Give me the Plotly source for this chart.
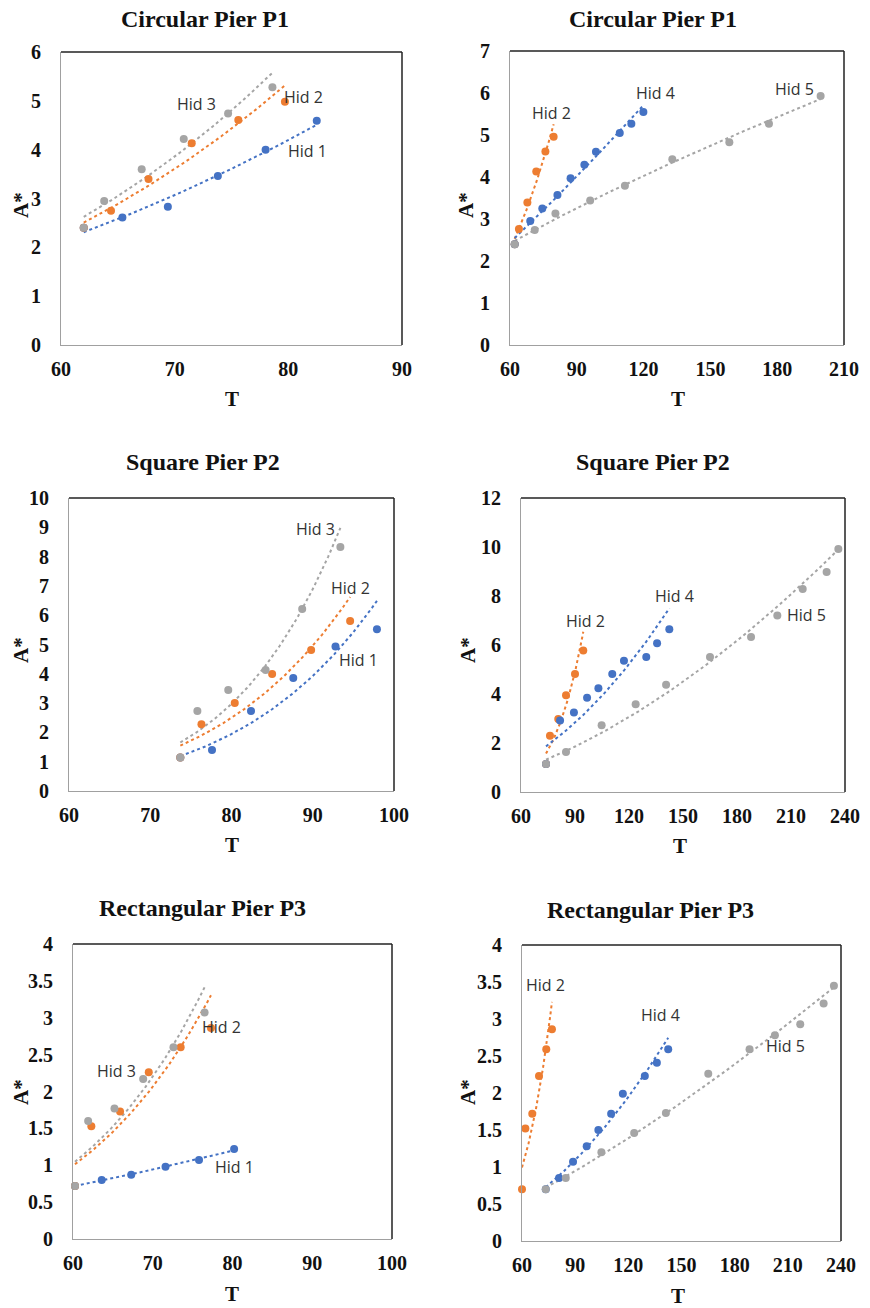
import numpy as np
import plotly.graph_objects as go

# page body has an 8px margin, so figure is 8px smaller and positions are offset
OFF = 8
W, H = 870 - OFF, 1308 - OFF

# ---------------- data ----------------
titles = ["Circular Pier P1", "Circular Pier P1", "Square Pier P2",
          "Square Pier P2", "Rectangular Pier P3", "Rectangular Pier P3"]

# Panel 1
p1_t_hid1 = [62.0, 65.4, 69.4, 73.8, 78.0, 82.5]
p1_a_hid1 = [2.40, 2.61, 2.83, 3.46, 4.00, 4.59]
p1_t_hid2 = [62.0, 64.4, 67.7, 71.5, 75.6, 79.7]
p1_a_hid2 = [2.40, 2.75, 3.40, 4.13, 4.61, 4.98]
p1_t_hid3 = [62.0, 63.8, 67.1, 70.8, 74.7, 78.6]
p1_a_hid3 = [2.40, 2.95, 3.60, 4.22, 4.74, 5.28]

# Panel 2
p2_t_hid2 = [62.1, 64.0, 67.8, 71.8, 75.9, 79.6]
p2_a_hid2 = [2.40, 2.76, 3.39, 4.13, 4.61, 4.96]
p2_t_hid4 = [62.1, 69.1, 74.5, 81.3, 87.2, 93.4, 98.6, 109.3, 114.5, 119.9]
p2_a_hid4 = [2.40, 2.95, 3.25, 3.57, 3.97, 4.29, 4.60, 5.05, 5.27, 5.55]
p2_t_hid5 = [62.1, 71.1, 80.4, 96.0, 111.6, 132.9, 158.5, 176.3, 199.5]
p2_a_hid5 = [2.40, 2.74, 3.13, 3.44, 3.79, 4.42, 4.83, 5.27, 5.93]

# Panel 3
p3_t_hid1 = [73.7, 77.6, 82.4, 87.6, 92.8, 97.9]
p3_a_hid1 = [1.14, 1.40, 2.73, 3.86, 4.93, 5.52]
p3_t_hid2 = [73.7, 76.3, 80.4, 85.0, 89.8, 94.6]
p3_a_hid2 = [1.14, 2.28, 3.00, 3.99, 4.81, 5.80]
p3_t_hid3 = [73.7, 75.8, 79.6, 84.2, 88.7, 93.4]
p3_a_hid3 = [1.14, 2.73, 3.45, 4.13, 6.21, 8.33]

# Panel 4
p4_t_hid2 = [73.9, 76.1, 80.7, 85.0, 90.0, 94.6]
p4_a_hid2 = [1.14, 2.30, 2.98, 3.95, 4.82, 5.78]
p4_t_hid4 = [73.9, 81.7, 89.4, 96.7, 103.0, 110.7, 117.2, 129.6, 135.6, 142.4]
p4_a_hid4 = [1.14, 2.92, 3.25, 3.85, 4.23, 4.82, 5.36, 5.51, 6.07, 6.64]
p4_t_hid5 = [73.9, 85.0, 104.8, 123.7, 140.6, 165.0, 187.8, 202.4, 216.5, 229.8, 236.3]
p4_a_hid5 = [1.14, 1.63, 2.72, 3.58, 4.38, 5.51, 6.33, 7.20, 8.29, 8.98, 9.92]

# Panel 5
p5_t_hid1 = [60.25, 63.6, 67.3, 71.6, 75.8, 80.2]
p5_a_hid1 = [0.72, 0.80, 0.87, 0.98, 1.07, 1.22]
p5_t_hid2 = [60.25, 62.3, 65.9, 69.5, 73.5, 77.3]
p5_a_hid2 = [0.72, 1.53, 1.73, 2.26, 2.60, 2.86]
p5_t_hid3 = [60.25, 61.9, 65.2, 68.8, 72.6, 76.5]
p5_a_hid3 = [0.72, 1.60, 1.77, 2.17, 2.60, 3.07]

# Panel 6
p6_t_hid2 = [60.0, 61.9, 65.8, 69.6, 73.7, 76.9]
p6_a_hid2 = [0.70, 1.52, 1.72, 2.23, 2.59, 2.86]
p6_t_hid4 = [73.4, 80.9, 88.8, 96.5, 103.1, 110.3, 116.9, 129.3, 136.1, 142.5]
p6_a_hid4 = [0.70, 0.85, 1.07, 1.28, 1.50, 1.72, 1.99, 2.23, 2.41, 2.59]
p6_t_hid5 = [73.4, 84.7, 104.8, 123.3, 141.2, 165.1, 188.4, 202.7, 217.0, 230.2, 236.0]
p6_a_hid5 = [0.70, 0.85, 1.20, 1.46, 1.73, 2.26, 2.59, 2.78, 2.93, 3.21, 3.45]

# axis ticks
x_ticks_a = [60, 70, 80, 90]
x_ticks_b = [60, 90, 120, 150, 180, 210]
x_ticks_c = [60, 70, 80, 90, 100]
x_ticks_d = [60, 90, 120, 150, 180, 210, 240]
y_ticks_1 = [0, 1, 2, 3, 4, 5, 6]
y_ticks_2 = [0, 1, 2, 3, 4, 5, 6, 7]
y_ticks_3 = [0, 1, 2, 3, 4, 5, 6, 7, 8, 9, 10]
y_ticks_4 = [0, 2, 4, 6, 8, 10, 12]
y_ticks_5 = [0, 0.5, 1, 1.5, 2, 2.5, 3, 3.5, 4]

BLUE, ORANGE, GREY = "#4472C4", "#ED7D31", "#A5A5A5"

# plot-area pixel boxes in the page: (left, right, top, bottom)
boxes = [(61, 402, 52, 345), (510, 844, 51, 345),
         (69, 394, 498, 791), (521, 845, 498, 792),
         (73, 392, 944, 1239), (522, 841, 945, 1241)]

panels = [
    dict(xr=[60, 90], yr=[0, 6], xt=x_ticks_a, yt=y_ticks_1,
         series=[(p1_t_hid1, p1_a_hid1, BLUE), (p1_t_hid2, p1_a_hid2, ORANGE), (p1_t_hid3, p1_a_hid3, GREY)],
         labels=[("Hid 3", 71.9, 4.93), ("Hid 2", 81.3, 5.08), ("Hid 1", 81.7, 3.98)]),
    dict(xr=[60, 210], yr=[0, 7], xt=x_ticks_b, yt=y_ticks_2,
         series=[(p2_t_hid2, p2_a_hid2, ORANGE), (p2_t_hid4, p2_a_hid4, BLUE), (p2_t_hid5, p2_a_hid5, GREY)],
         labels=[("Hid 2", 78.6, 5.53), ("Hid 4", 125.3, 5.99), ("Hid 5", 187.9, 6.1)]),
    dict(xr=[60, 100], yr=[0, 10], xt=x_ticks_c, yt=y_ticks_3,
         series=[(p3_t_hid1, p3_a_hid1, BLUE), (p3_t_hid2, p3_a_hid2, ORANGE), (p3_t_hid3, p3_a_hid3, GREY)],
         labels=[("Hid 3", 90.3, 8.95), ("Hid 2", 94.6, 6.92), ("Hid 1", 95.6, 4.47)]),
    dict(xr=[60, 240], yr=[0, 12], xt=x_ticks_d, yt=y_ticks_4,
         series=[(p4_t_hid2, p4_a_hid2, ORANGE), (p4_t_hid4, p4_a_hid4, BLUE), (p4_t_hid5, p4_a_hid5, GREY)],
         labels=[("Hid 2", 96.0, 7.0), ("Hid 4", 145.0, 8.0), ("Hid 5", 218.7, 7.24)]),
    dict(xr=[60, 100], yr=[0, 4], xt=x_ticks_c, yt=y_ticks_5,
         series=[(p5_t_hid1, p5_a_hid1, BLUE), (p5_t_hid2, p5_a_hid2, ORANGE), (p5_t_hid3, p5_a_hid3, GREY)],
         labels=[("Hid 3", 65.4, 2.28), ("Hid 2", 78.6, 2.87), ("Hid 1", 80.2, 0.98)]),
    dict(xr=[60, 240], yr=[0, 4], xt=x_ticks_d, yt=y_ticks_5,
         series=[(p6_t_hid2, p6_a_hid2, ORANGE), (p6_t_hid4, p6_a_hid4, BLUE), (p6_t_hid5, p6_a_hid5, GREY)],
         labels=[("Hid 2", 73.2, 3.46), ("Hid 4", 138.3, 3.05), ("Hid 5", 208.4, 2.64)]),
]

title_pos = [(205, 19), (653, 19), (203, 462), (653, 462), (202, 908), (650, 910)]
xt_pos = [(232, 399), (678, 399), (232, 845), (680, 846), (232, 1294), (678, 1296)]
yt_pos = [(21, 205), (466, 205), (21, 650), (468, 650), (21, 1092), (468, 1092)]

TNR = "Liberation Serif"
LBL = "Open Sans"


def px(x):
    return (x - OFF) / W


def py(y):
    return 1 - (y - OFF) / H


def power_fit(t, a):
    b, ln_c = np.polyfit(np.log(t), np.log(a), 1)
    xs = np.linspace(min(t), max(t), 80)
    return xs, np.exp(ln_c) * xs ** b


fig = go.Figure()
annotations = []
shapes = []
tickfont = dict(family=TNR, size=20, color="#111", weight="bold")

for i, (p, box) in enumerate(zip(panels, boxes)):
    n = i + 1
    xa = "x" if n == 1 else f"x{n}"
    ya = "y" if n == 1 else f"y{n}"
    l, r, t, b = box
    fig.layout[f"xaxis{'' if n == 1 else n}"] = dict(
        domain=[px(l), px(r)], range=p["xr"], anchor=ya, tickvals=p["xt"],
        showgrid=False, zeroline=False, showline=True, linecolor="#a0a0a0", linewidth=1,
        ticks="outside", ticklen=6, tickcolor="rgba(0,0,0,0)", automargin=False,
        tickfont=tickfont, fixedrange=True)
    fig.layout[f"yaxis{'' if n == 1 else n}"] = dict(
        domain=[py(b), py(t)], range=p["yr"], anchor=xa, tickvals=p["yt"],
        showgrid=False, zeroline=False, showline=True, linecolor="#a0a0a0", linewidth=1,
        ticks="outside", ticklen=15, tickcolor="rgba(0,0,0,0)", automargin=False,
        tickfont=tickfont, fixedrange=True)
    # top and right dark frame
    shapes.append(dict(type="line", xref=f"{xa} domain", yref=f"{ya} domain",
                       x0=0, x1=1, y0=1, y1=1, line=dict(color="#222", width=1.5)))
    shapes.append(dict(type="line", xref=f"{xa} domain", yref=f"{ya} domain",
                       x0=1, x1=1, y0=0, y1=1, line=dict(color="#222", width=1.5)))

    for (tt, aa, col) in p["series"]:
        xs, ys = power_fit(tt, aa)
        fig.add_trace(go.Scatter(x=xs, y=ys, mode="lines", xaxis=xa, yaxis=ya,
                                 line=dict(color=col, width=2, dash="dot"),
                                 showlegend=False, hoverinfo="skip"))
    for (tt, aa, col) in p["series"]:
        fig.add_trace(go.Scatter(x=tt, y=aa, mode="markers", xaxis=xa, yaxis=ya,
                                 marker=dict(color=col, size=8), cliponaxis=False,
                                 showlegend=False))
    for (txt, lx, ly) in p["labels"]:
        annotations.append(dict(text=txt, x=lx, y=ly, xref=xa, yref=ya, showarrow=False,
                                font=dict(family=LBL, size=16, color="#333")))

    tx, ty = title_pos[i]
    annotations.append(dict(text=f"<b>{titles[i]}</b>", x=px(tx), y=py(ty),
                            xref="paper", yref="paper", showarrow=False,
                            xanchor="center", yanchor="middle", borderpad=0,
                            font=dict(family=TNR, size=24, color="#111")))
    xx, xy = xt_pos[i]
    annotations.append(dict(text="<b>T</b>", x=px(xx), y=py(xy), xref="paper", yref="paper",
                            showarrow=False, xanchor="center", yanchor="middle",
                            font=dict(family=TNR, size=21, color="#111")))
    yx, yy = yt_pos[i]
    annotations.append(dict(text="<b>A*</b>", x=px(yx), y=py(yy), xref="paper", yref="paper",
                            showarrow=False, xanchor="center", yanchor="middle", textangle=-90,
                            borderpad=0, font=dict(family=TNR, size=21, color="#111")))

fig.update_layout(width=W, height=H, margin=dict(l=0, r=0, t=0, b=0, autoexpand=False),
                  paper_bgcolor="white", plot_bgcolor="white",
                  annotations=annotations, shapes=shapes, showlegend=False)

fig.write_html("out.html")
